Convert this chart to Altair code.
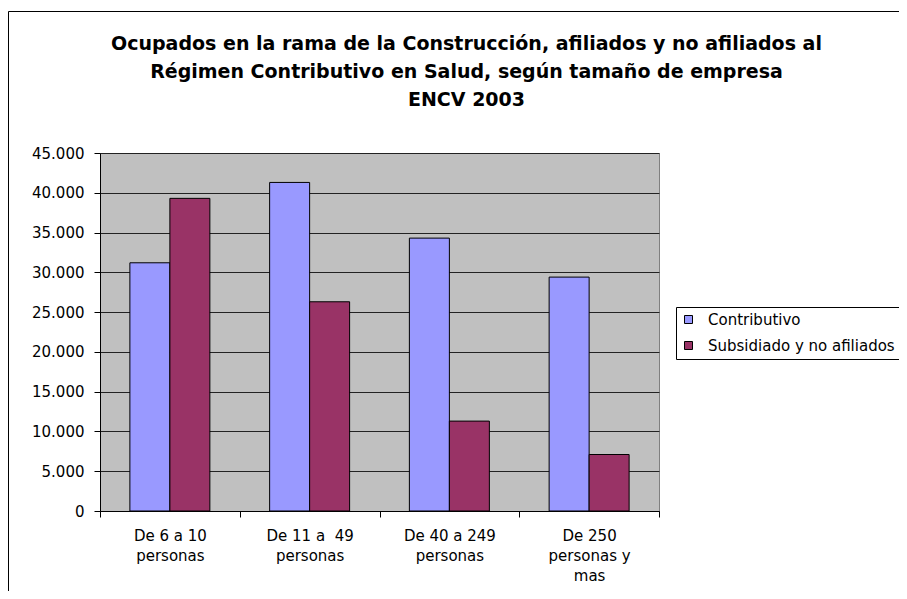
import altair as alt
import pandas as pd

categories = ["De 6 a 10\npersonas", "De 11 a\u00a0 49\npersonas", "De 40 a 249\npersonas", "De 250\npersonas y\nmas"]
series = ["Contributivo", "Subsidiado y no afiliados"]
contributivo = [31200, 41300, 34300, 29400]
subsidiado = [39300, 26300, 11300, 7100]
y_ticks = [0, 5000, 10000, 15000, 20000, 25000, 30000, 35000, 40000, 45000]
title_lines = [
    "Ocupados en la rama de la Construcción, afiliados y no afiliados al",
    "Régimen Contributivo en Salud, según tamaño de empresa",
    "ENCV 2003",
]
colors = ["#9999FF", "#993366"]

rows = []
for c, a, b in zip(categories, contributivo, subsidiado):
    rows.append({"cat": c, "serie": series[0], "valor": a})
    rows.append({"cat": c, "serie": series[1], "valor": b})
df = pd.DataFrame(rows)

FONT = "DejaVu Sans"

bars = alt.Chart(df).mark_bar(stroke="black", strokeWidth=1).encode(
    x=alt.X("cat:N", sort=categories, title=None,
            scale=alt.Scale(paddingInner=0, paddingOuter=0),
            axis=alt.Axis(labelAngle=0, labelExpr="split(datum.label, '\\n')",
                          tickBand="extent", grid=False, labelLineHeight=20,
                          labelPadding=11, tickSize=6,
                          labelFont=FONT, labelFontSize=15, labelColor="black",
                          domainColor="black", tickColor="black")),
    xOffset=alt.XOffset("serie:N", sort=series,
                        scale=alt.Scale(paddingInner=0, paddingOuter=0.747)),
    y=alt.Y("valor:Q", title=None,
            scale=alt.Scale(domain=[0, 45000], nice=False),
            axis=alt.Axis(values=y_ticks, grid=True, gridColor="#222222",
                          labelExpr="replace(format(datum.value, ','), ',', '.')",
                          tickSize=6, labelPadding=10,
                          labelFont=FONT, labelFontSize=15, labelColor="black",
                          domainColor="black", tickColor="black")),
    color=alt.Color("serie:N", sort=series,
                    scale=alt.Scale(domain=series, range=colors),
                    legend=alt.Legend(title=None, orient="none", legendX=576, legendY=154,
                                      strokeColor="black", fillColor="white", padding=5,
                                      rowPadding=10, symbolType="square", symbolSize=64,
                                      symbolStrokeColor="black", symbolStrokeWidth=1,
                                      labelFont=FONT, labelFontSize=15, labelColor="black",
                                      labelOffset=12, labelLimit=400)),
)

frame = alt.Chart(pd.DataFrame({"f": [0]})).mark_rect(
    fillOpacity=0, stroke="black", strokeWidth=1
).encode(
    x=alt.value(-91.5), x2=alt.value(900), y=alt.value(-141.5), y2=alt.value(600)
)

chart = alt.layer(bars, frame).properties(
    width=559, height=358,
    background="white",
    autosize=alt.AutoSizeParams(type="none"),
    padding={"left": 92, "top": 145, "right": 240, "bottom": 80},
    title=alt.TitleParams(text=title_lines, font=FONT, fontSize=19, fontWeight="bold",
                          color="black", anchor="middle", dx=87, offset=-99, lineHeight=28),
).configure_view(
    fill="#C0C0C0", stroke="#808080", strokeWidth=1
)

chart.save("out.html", embed_options={"renderer": "svg", "actions": False})
